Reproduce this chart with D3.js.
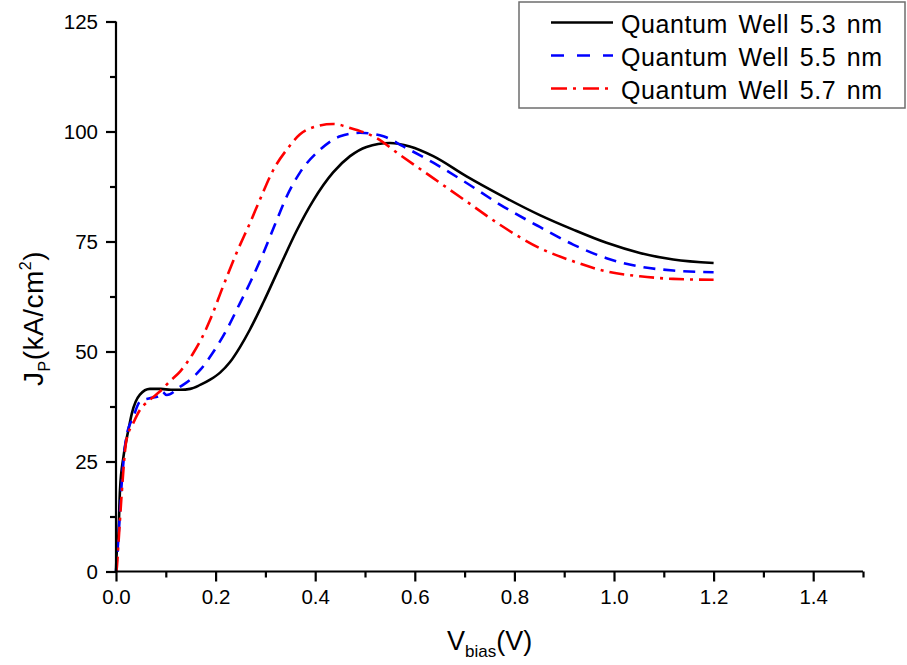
<!DOCTYPE html>
<html><head><meta charset="utf-8">
<script src="https://cdn.jsdelivr.net/npm/d3@7"></script>
<style>body{margin:0;background:#fff;}svg{display:block;font-family:"Liberation Sans",Arial,sans-serif;}</style>
</head><body><svg id="c" width="907" height="665"></svg>
<script>
const seriesNames = ["Quantum Well 5.3 nm", "Quantum Well 5.5 nm", "Quantum Well 5.7 nm"];
const x53 = [0,0.001,0.005,0.008,0.015,0.025,0.032,0.048,0.068,0.09,0.11,0.129,0.149,0.169,0.189,0.209,0.229,0.249,0.269,0.296,0.329,0.363,0.396,0.436,0.47,0.503,0.55,0.59,0.637,0.704,0.771,0.851,0.918,0.985,1.052,1.119,1.2];
const y53 = [0,3.4,8.7,18.5,26.1,32.2,36,40.2,41.5,41.5,41.3,41.3,41.5,42.4,43.6,45.2,47.6,51.0,55.0,61.2,69.3,77.5,84.3,90.7,94.4,96.5,97.4,96.6,94.4,89.8,85.6,81.0,77.7,74.7,72.4,70.9,70.1];
const x55 = [0,0.002,0.005,0.011,0.021,0.035,0.048,0.068,0.085,0.092,0.102,0.129,0.149,0.169,0.192,0.222,0.249,0.272,0.296,0.319,0.343,0.369,0.41,0.45,0.49,0.537,0.577,0.637,0.704,0.771,0.851,0.918,0.985,1.052,1.119,1.2];
const y55 = [0,3,7.9,19.3,30.7,35.2,38.6,39.4,39.8,40.9,40.1,42.0,43.6,45.8,49.3,54.9,61.0,66.3,72.4,78.8,85.3,90.6,95.9,98.9,99.7,98.9,96.6,92.9,88.3,83.4,78.3,74.3,71.2,69.3,68.4,68.0];
const x57 = [0,0.001,0.005,0.011,0.021,0.035,0.048,0.068,0.088,0.108,0.129,0.142,0.155,0.172,0.189,0.215,0.242,0.269,0.289,0.316,0.343,0.369,0.403,0.436,0.47,0.523,0.57,0.637,0.704,0.771,0.851,0.918,0.985,1.052,1.119,1.2];
const y57 = [0,0.3,6.5,17.0,29.9,33.8,36.7,39.0,40.9,43.2,45.5,47.4,49.6,53,57.2,64.8,72.4,79.2,84.5,91.3,95.9,99.3,101.2,101.7,100.8,98.5,94.7,89.4,84.1,78.8,73.5,70.5,68.2,67.1,66.5,66.3];
const xTicks = [0,0.2,0.4,0.6,0.8,1.0,1.2,1.4];
const yTicks = [0,25,50,75,100,125];

const svg = d3.select("#c");
const x = d3.scaleLinear().domain([0,1.5]).range([116,863]);
const y = d3.scaleLinear().domain([0,125]).range([571.5,21.5]);

const series = [
  {name: seriesNames[0], xs: x53, ys: y53, color: "#000000", dash: null},
  {name: seriesNames[1], xs: x55, ys: y55, color: "#0000ff", dash: "12,8"},
  {name: seriesNames[2], xs: x57, ys: y57, color: "#ff0000", dash: "15,6,3,6"}
];

const line = d3.line().x(d => x(d[0])).y(d => y(d[1])).curve(d3.curveMonotoneX);
series.forEach(s => {
  svg.append("path").datum(s.xs.map((v,i)=>[v,s.ys[i]]))
    .attr("d", line).attr("fill","none").attr("stroke", s.color)
    .attr("stroke-width", 2.6).attr("stroke-dasharray", s.dash)
    .attr("stroke-linejoin","round");
});

// axes
const xMinor = d3.range(0.1,1.51,0.2);
const yMinor = d3.range(12.5,125,25);
const gx = svg.append("g").attr("transform","translate(0,571.5)")
  .call(d3.axisBottom(x).tickValues(xTicks).tickFormat(d3.format(".1f")).tickSize(10).tickPadding(8));
svg.append("g").attr("transform","translate(0,571.5)")
  .call(d3.axisBottom(x).tickValues(xMinor).tickFormat("").tickSize(6))
  .select(".domain").remove();
const gy = svg.append("g").attr("transform","translate(116,0)")
  .call(d3.axisLeft(y).tickValues(yTicks).tickSize(10).tickPadding(8));
svg.append("g").attr("transform","translate(116,0)")
  .call(d3.axisLeft(y).tickValues(yMinor).tickFormat("").tickSize(6))
  .select(".domain").remove();
svg.selectAll(".domain").attr("stroke","#000").attr("stroke-width",2.2);
svg.selectAll(".tick line").attr("stroke","#000").attr("stroke-width",2.2);
svg.selectAll(".tick text").attr("font-size",20.5).attr("font-family","Liberation Sans, Arial, sans-serif").attr("fill","#000");
gy.selectAll(".domain").attr("d","M0,"+(y(125))+"V"+y(0));
gx.selectAll(".domain").attr("d","M"+x(0)+",0H"+x(1.5));

// axis titles
const xt = svg.append("text").attr("x",447).attr("y",650).attr("font-size",27).attr("fill","#000");
xt.append("tspan").text("V");
xt.append("tspan").attr("font-size",17).attr("dy",7).text("bias");
xt.append("tspan").attr("dy",-7).text("(V)");

const yt = svg.append("text").attr("transform","translate(43,386) rotate(-90)").attr("font-size",28).attr("fill","#000").attr("letter-spacing",0.5);
yt.append("tspan").text("J");
yt.append("tspan").attr("font-size",16).attr("dy",7).text("P");
yt.append("tspan").attr("dy",-7).text("(kA/cm");
yt.append("tspan").attr("font-size",16).attr("dy",-12).text("2");
yt.append("tspan").attr("dy",12).text(")");

// legend
svg.append("rect").attr("x",519).attr("y",2).attr("width",386).attr("height",106)
  .attr("fill","#fff").attr("stroke","#6e6e6e").attr("stroke-width",1.5);
series.forEach((s,i) => {
  const ly = 22.5 + i*33;
  svg.append("line").attr("x1",551).attr("x2",613).attr("y1",ly).attr("y2",ly)
    .attr("stroke",s.color).attr("stroke-width",2.6)
    .attr("stroke-dasharray", i===1 ? "13,13" : (i===2 ? "16,6,3,7" : null));
  svg.append("text").attr("x",621).attr("y",ly+10).attr("font-size",25).attr("fill","#000")
    .attr("letter-spacing",0.6).attr("word-spacing",3).text(s.name);
});
</script></body></html>
